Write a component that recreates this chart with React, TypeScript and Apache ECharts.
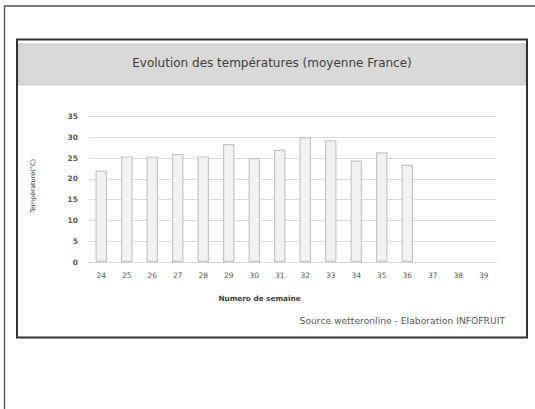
import React, { useEffect, useRef } from "react";
import * as echarts from "echarts";

const weeks = ["24", "25", "26", "27", "28", "29", "30", "31", "32", "33", "34", "35", "36", "37", "38", "39"];
const temperatures: (number | null)[] = [22.0, 25.4, 25.4, 26.0, 25.4, 28.4, 25.0, 27.0, 30.0, 29.3, 24.4, 26.4, 23.4, null, null, null];
const yTicks = [0, 5, 10, 15, 20, 25, 30, 35];

const titleText = "Evolution des températures (moyenne France)";
const yAxisName = "Température(°C)";
const xAxisName = "Numero de semaine";
const sourceText = "Source wetteronline - Elaboration INFOFRUIT";

export default function App() {
  const ref = useRef<HTMLDivElement>(null);
  useEffect(() => {
    if (!ref.current) return;
    const chart = echarts.init(ref.current, null, { renderer: "svg" });
    const font = "DejaVu Sans";
    chart.setOption({
      animation: false,
      backgroundColor: "#ffffff",
      textStyle: { fontFamily: font },
      graphic: [
        { type: "rect", shape: { x: 4.5, y: 6, width: 545, height: 420 }, style: { fill: "none", stroke: "#555", lineWidth: 1.4 }, silent: true },
        { type: "rect", shape: { x: 17, y: 39.5, width: 510, height: 298 }, style: { fill: "#fff", stroke: "#333", lineWidth: 2 }, silent: true, z: -1 },
        { type: "rect", shape: { x: 18.5, y: 44, width: 507, height: 41 }, style: { fill: "#d9d9d9", stroke: "#cccccc", lineWidth: 1 }, silent: true },
        { type: "text", x: 272, y: 63, style: { text: titleText, fill: "#404040", font: `12px "${font}"`, textAlign: "center", textVerticalAlign: "middle" }, silent: true },
        { type: "text", x: 33, y: 186, rotation: Math.PI / 2, style: { text: yAxisName, fill: "#404040", font: `6.5px "${font}"`, textAlign: "center", textVerticalAlign: "middle" }, silent: true },
        { type: "text", x: 259.5, y: 298, style: { text: xAxisName, fill: "#404040", font: `bold 7.3px "${font}"`, textAlign: "center", textVerticalAlign: "middle" }, silent: true },
        { type: "text", x: 505, y: 320, style: { text: sourceText, fill: "#595959", font: `9.2px "${font}"`, textAlign: "right", textVerticalAlign: "middle" }, silent: true }
      ],
      grid: { left: 88.5, right: 38.5, top: 116.5, bottom: 147, containLabel: false },
      xAxis: {
        type: "category",
        data: weeks,
        axisLine: { show: true, lineStyle: { color: "#d9d9d9", width: 1 } },
        axisTick: { show: false },
        axisLabel: { color: "#595959", fontSize: 7.5, margin: 9, fontFamily: font }
      },
      yAxis: {
        type: "value",
        min: yTicks[0],
        max: yTicks[yTicks.length - 1],
        interval: 5,
        axisLine: { show: false },
        axisTick: { show: false },
        axisLabel: { color: "#595959", fontSize: 7.5, margin: 10.5, fontFamily: font, fontWeight: "bold" },
        splitLine: { lineStyle: { color: "#d9d9d9", width: 1 } }
      },
      series: [
        {
          type: "bar",
          data: temperatures,
          barCategoryGap: "55%",
          itemStyle: { color: "#f2f2f2", borderColor: "#c6c6c6", borderWidth: 1.2 }
        }
      ]
    });
    return () => chart.dispose();
  }, []);
  return <div ref={ref} style={{ position: "absolute", left: 0, top: 0, width: 535, height: 409 }} />;
}
